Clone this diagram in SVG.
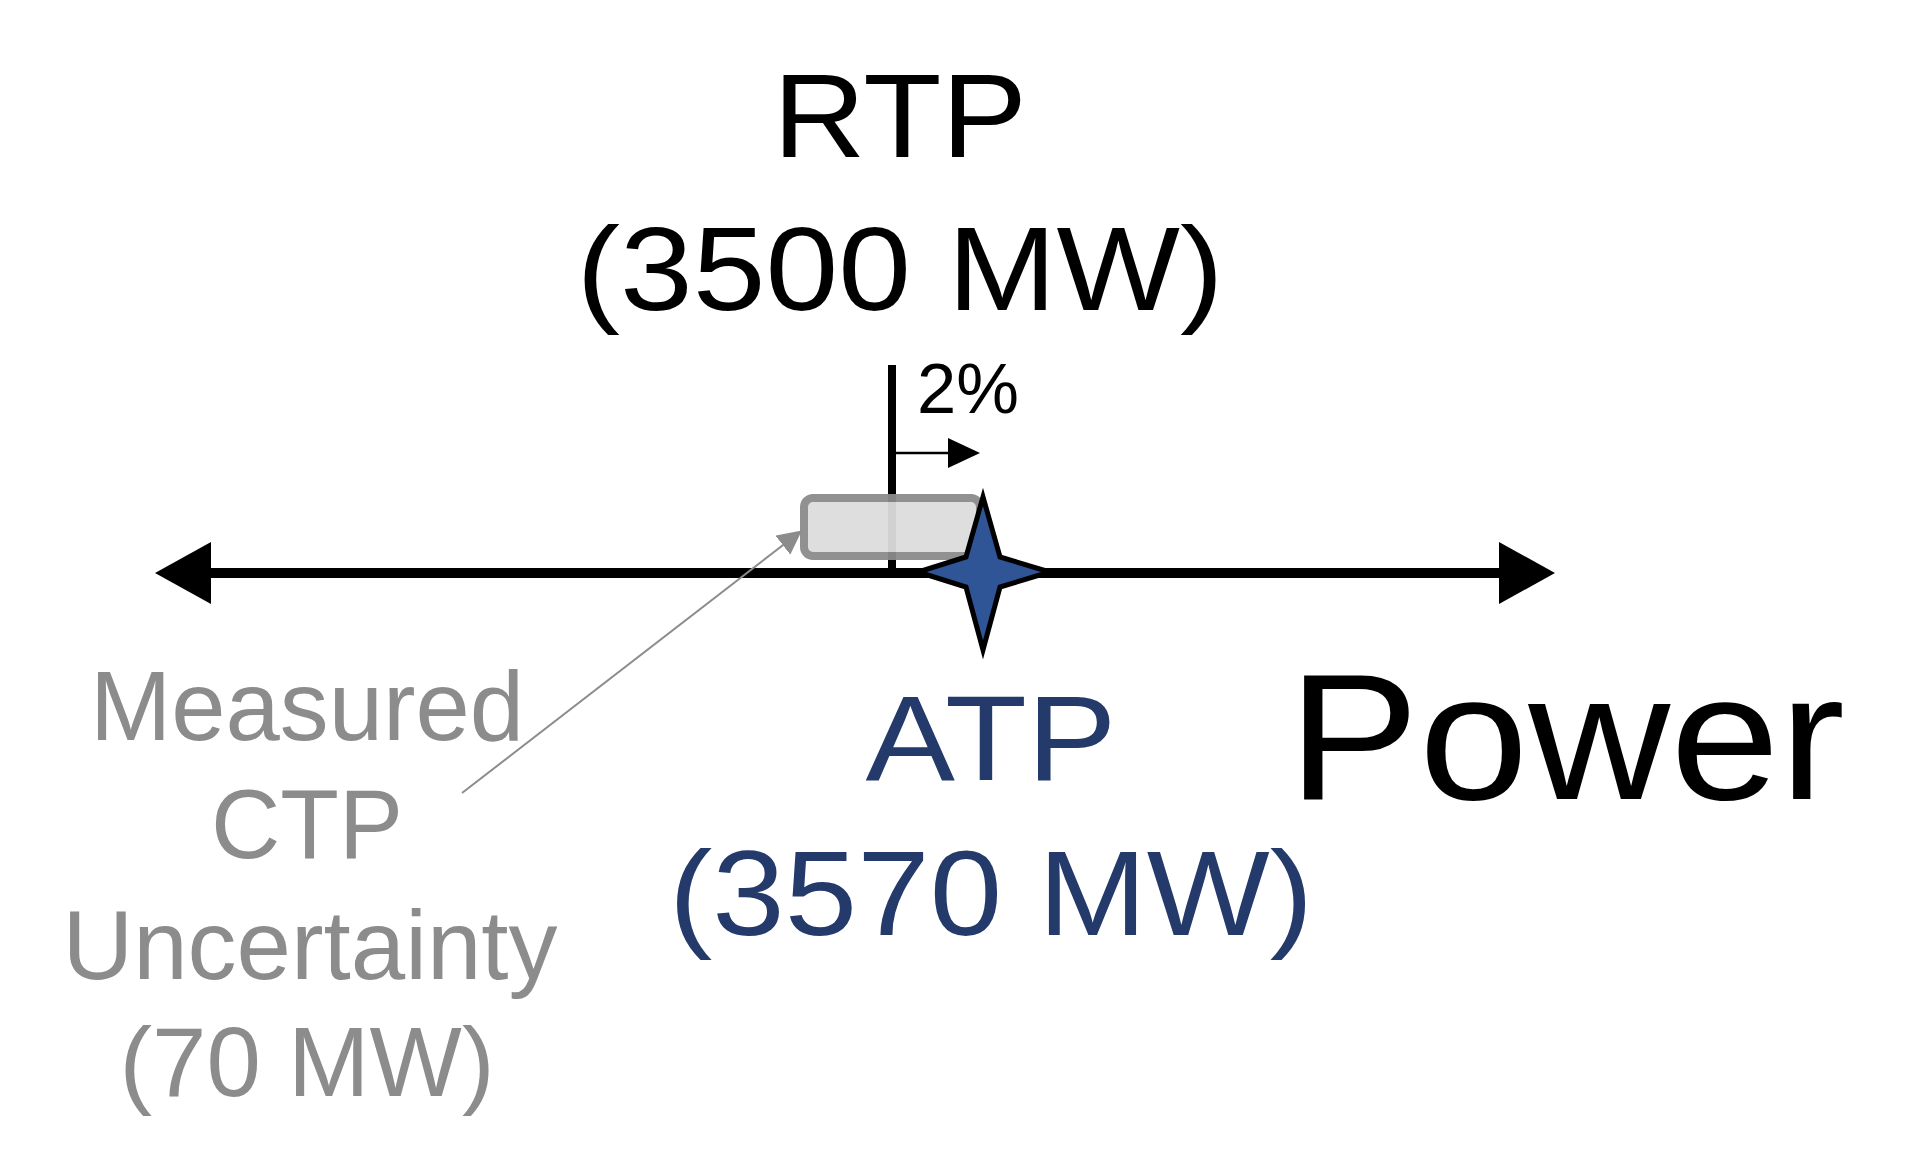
<svg xmlns="http://www.w3.org/2000/svg" width="1920" height="1149" viewBox="0 0 1920 1149">
<style>
text{font-family:"Liberation Sans",Arial,sans-serif;}
.k{fill:#000}.g{fill:#8c8c8c}.b{fill:#243a6b}
</style>
<defs>
<marker id="ah" markerWidth="10" markerHeight="10" refX="9" refY="5" orient="auto" markerUnits="userSpaceOnUse" viewBox="0 0 10 10"><path d="M0,0L10,5L0,10z" fill="#000"/></marker>
<marker id="gh" viewBox="0 0 10 10" refX="9" refY="5" markerWidth="24" markerHeight="24" orient="auto" markerUnits="userSpaceOnUse"><path d="M0,0L10,5L0,10z" fill="#8c8c8c"/></marker>
</defs>
<rect width="1920" height="1149" fill="#fff"/>
<g id="connectors">
<line x1="210" y1="573" x2="1500" y2="573" stroke="#000" stroke-width="10"/>
<path d="M155,573L211,542L211,604z" fill="#000"/>
<path d="M1555,573L1499,542L1499,604z" fill="#000"/>
<line x1="892" y1="365" x2="892" y2="572" stroke="#000" stroke-width="8"/>
<line x1="896" y1="453" x2="950" y2="453" stroke="#000" stroke-width="2.5"/>
<path d="M980,453L948,438L948,468z" fill="#000"/>
<line x1="462" y1="793" x2="800" y2="532" stroke="#8c8c8c" stroke-width="2" marker-end="url(#gh)"/>
</g>
<g id="ctp-box"><rect x="804" y="498" width="176" height="58" rx="9" fill="#dcdddc" stroke="#8c8c8c" stroke-width="8" opacity="0.95"/></g>
<g id="atp-star"><path d="M983,497L1000,557L1050,572L1000,587L983,650L966,587L918,572L966,557z" fill="#2f5597" stroke="#000" stroke-width="5" stroke-linejoin="miter"/></g>
<g id="rtp-label">
<text class="k" x="900" y="157" font-size="118" text-anchor="middle" textLength="254" lengthAdjust="spacingAndGlyphs">RTP</text>
<text class="k" x="900" y="310" font-size="118" text-anchor="middle" textLength="647" lengthAdjust="spacingAndGlyphs">(3500 MW)</text>
<text class="k" x="917" y="413" font-size="70" textLength="102" lengthAdjust="spacingAndGlyphs">2%</text>
</g>
<g id="ctp-label">
<text class="g" x="307" y="740" font-size="98" text-anchor="middle" textLength="434" lengthAdjust="spacingAndGlyphs">Measured</text>
<text class="g" x="307" y="858" font-size="98" text-anchor="middle" textLength="192" lengthAdjust="spacingAndGlyphs">CTP</text>
<text class="g" x="310" y="979" font-size="98" text-anchor="middle" textLength="495" lengthAdjust="spacingAndGlyphs">Uncertainty</text>
<text class="g" x="307" y="1096" font-size="98" text-anchor="middle" textLength="375" lengthAdjust="spacingAndGlyphs">(70 MW)</text>
</g>
<g id="atp-label">
<text class="b" x="991" y="780" font-size="120" text-anchor="middle" textLength="251" lengthAdjust="spacingAndGlyphs">ATP</text>
<text class="b" x="991" y="935" font-size="120" text-anchor="middle" textLength="644" lengthAdjust="spacingAndGlyphs">(3570 MW)</text>
</g>
<g id="power-label"><text class="k" x="1288" y="799" font-size="180" textLength="557" lengthAdjust="spacingAndGlyphs">Power</text></g>
</svg>
